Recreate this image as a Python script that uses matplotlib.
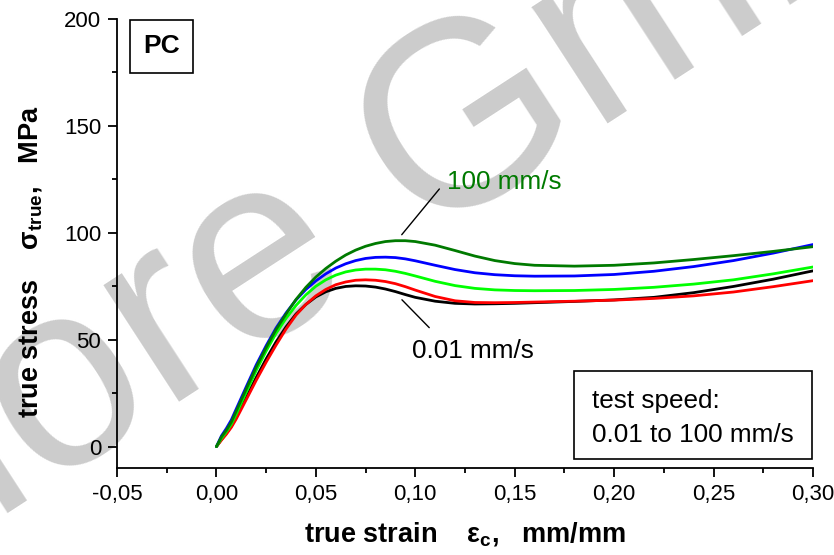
import matplotlib
matplotlib.use('Agg')
import matplotlib.pyplot as plt
from matplotlib.ticker import MultipleLocator, FuncFormatter
from matplotlib.patches import Rectangle

plt.rcParams['font.family'] = ['Liberation Sans', 'DejaVu Sans']
plt.rcParams['mathtext.fontset'] = 'custom'
plt.rcParams['mathtext.rm'] = 'Liberation Sans'
plt.rcParams['mathtext.bf'] = 'Liberation Sans:bold'
plt.rcParams['mathtext.it'] = 'Liberation Sans:italic'

# true strain, mm/mm
strain = [0, 0.0025, 0.005, 0.0075, 0.01, 0.015, 0.02, 0.025, 0.03, 0.035,
          0.04, 0.045, 0.05, 0.055, 0.06, 0.065, 0.07, 0.075, 0.08, 0.085,
          0.09, 0.095, 0.10, 0.11, 0.12, 0.13, 0.14, 0.15, 0.16, 0.18,
          0.20, 0.22, 0.24, 0.26, 0.28, 0.30]

# true stress, MPa, one list per test speed
stress_001 = [0, 3.3, 6.3, 9.6, 13.8, 23, 32.3, 41, 49, 56,
              62, 66.5, 70, 72.4, 74, 74.9, 75.2, 75.1, 74.6, 73.7,
              72.5, 71.1, 69.8, 68, 67, 66.7, 66.8, 67, 67.3, 67.9,
              68.6, 69.8, 72, 74.9, 78.3, 82.2]
stress_red = [0, 3, 5.8, 9, 13, 22, 31, 39.5, 47.5, 55,
              61.5, 66.5, 70.5, 73.5, 75.7, 77, 77.8, 78, 77.8, 77.2,
              76.2, 74.8, 73.2, 70.2, 68.2, 67.4, 67.3, 67.4, 67.6, 68,
              68.5, 69.3, 70.5, 72.3, 74.8, 77.6]
stress_blue = [0, 5, 8.5, 12.5, 17.7, 28, 38.2, 47.2, 55.5, 62.5,
               68.6, 73.5, 77.5, 80.8, 83.5, 85.5, 87, 88, 88.5, 88.6,
               88.4, 87.8, 86.9, 84.8, 82.8, 81.3, 80.4, 79.9, 79.7, 79.8,
               80.5, 82, 84.2, 87, 90.5, 94.5]
stress_lime = [0, 3.8, 7, 10.5, 15.3, 25.5, 35.6, 44.7, 53, 60,
               66, 71, 75, 78, 80.2, 81.7, 82.6, 83, 83, 82.7,
               82, 81, 79.8, 77.3, 75.3, 74, 73.3, 73, 72.9, 73,
               73.5, 74.5, 76, 78, 80.8, 84]
stress_100 = [0, 4.5, 7.7, 11.5, 16.7, 27, 37.2, 46.3, 54.8, 62,
              68.8, 74.5, 79.3, 83.3, 86.7, 89.6, 91.9, 93.7, 95, 95.9,
              96.3, 96.3, 95.9, 94.2, 91.7, 89.1, 87, 85.6, 84.8, 84.4,
              84.8, 85.9, 87.5, 89.3, 91.3, 93.5]

series = [stress_001, stress_red, stress_blue, stress_lime, stress_100]
colors = ['#000000', '#ff0000', '#0000ff', '#00ff00', '#007a00']

fig = plt.figure(figsize=(8.34, 5.55), dpi=100)
ax = fig.add_axes([0.1403, 0.1568, 0.8345, 0.809])
ax.patch.set_alpha(0)

# watermark behind everything
fig.text(-0.008, 0.058, 'lore GmbH', fontsize=189, color='#cccccc',
         rotation=33, rotation_mode='anchor', ha='left', va='baseline',
         zorder=-5)

for s, c in zip(series, colors):
    ax.plot(strain, s, color=c, lw=2.0, solid_capstyle='round')

ax.set_xlim(-0.05, 0.30)
ax.set_ylim(-10, 200)
ax.spines['top'].set_visible(False)
ax.spines['right'].set_visible(False)
for sp in ['left', 'bottom']:
    ax.spines[sp].set_linewidth(1.3)

ax.xaxis.set_major_locator(MultipleLocator(0.05))
ax.xaxis.set_minor_locator(MultipleLocator(0.025))
ax.yaxis.set_major_locator(MultipleLocator(50))
ax.yaxis.set_minor_locator(MultipleLocator(25))
ax.xaxis.set_major_formatter(FuncFormatter(lambda v, p: ('%.2f' % v).replace('.', ',')))
ax.tick_params(which='major', length=6.5, width=1.3, labelsize=16, pad=5)
ax.tick_params(which='minor', length=3.5, width=1.3)

ax.set_xlabel(r'true strain    $\mathbf{ε_c}$,   mm/mm', fontsize=19.5,
              fontweight='bold', labelpad=11)
fig.text(0.037, 0.528, r'true stress    $\mathbf{σ_{true}}$,   MPa', fontsize=19.5,
         fontweight='bold', rotation=90, ha='center', va='center')

# curve labels
ax.annotate('', xy=(0.0923, 98.1), xytext=(0.113, 121.5),
            arrowprops=dict(arrowstyle='-', color='black', lw=1))
ax.text(0.116, 120.6, '100 mm/s', color='#007a00', fontsize=18.8,
        ha='left', va='baseline')
ax.annotate('', xy=(0.0923, 69.6), xytext=(0.108, 54.7),
            arrowprops=dict(arrowstyle='-', color='black', lw=1))
ax.text(0.0985, 41.6, '0.01 mm/s', color='black', fontsize=18.8,
        ha='left', va='baseline')

# PC box
ax.add_patch(Rectangle((0.0187, 0.880), 0.0903, 0.118, transform=ax.transAxes,
                       fill=False, lw=1.2, edgecolor='black'))
ax.text(0.0638, 0.939, 'PC', transform=ax.transAxes, fontsize=19,
        fontweight='bold', ha='center', va='center')

# test speed box
ax.add_patch(Rectangle((0.657, 0.020), 0.342, 0.196, transform=ax.transAxes,
                       fill=False, lw=1.2, edgecolor='black'))
ax.text(0.683, 0.1336, 'test speed:', transform=ax.transAxes, fontsize=18.8,
        ha='left', va='baseline')
ax.text(0.683, 0.058, '0.01 to 100 mm/s', transform=ax.transAxes, fontsize=18.8,
        ha='left', va='baseline')

fig.savefig('out.png', dpi=100)
